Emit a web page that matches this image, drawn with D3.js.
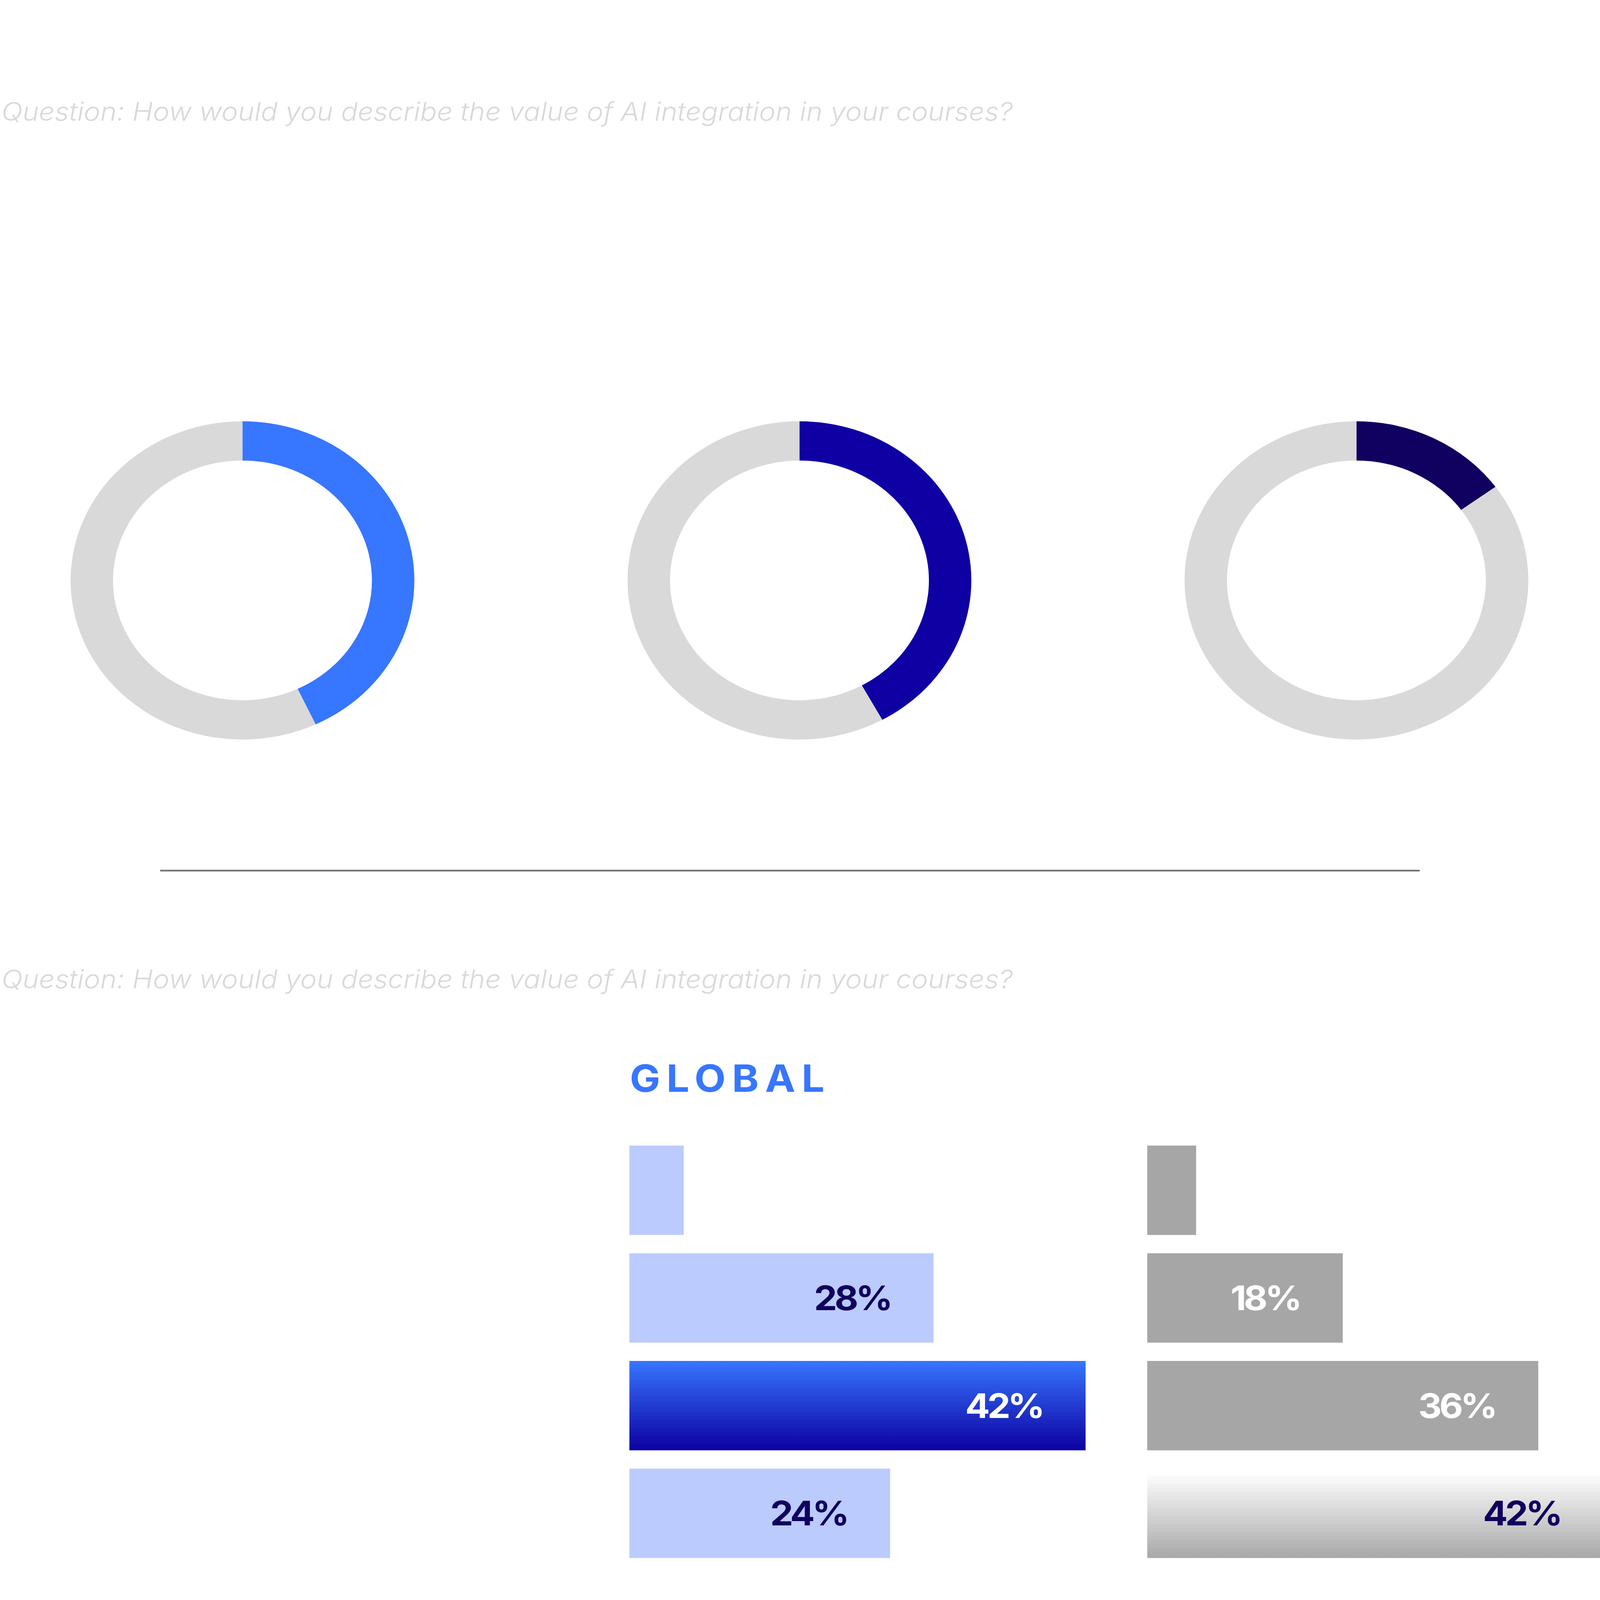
<!DOCTYPE html>
<html>
<head>
<meta charset="utf-8">
<script src="https://cdn.jsdelivr.net/npm/d3@7"></script>
<style>
  html, body { margin: 0; padding: 0; background: #fff; overflow: hidden; }
  svg { display: block; width: 100vw; height: 100vh; }
</style>
</head>
<body>
<svg id="chart" viewBox="0 0 4375 4725" preserveAspectRatio="none"></svg>
<script>
// ----- data -----
const questionText = "Question: How would you describe the value of AI integration in your courses?";
const donutValues = [43, 42, 15];
const panelTitle = "GLOBAL";
const globalValues = [5, 28, 42, 24];
const compareValues = [4.5, 18, 36, 42];

const svg = d3.select("#chart");
svg.append("rect").attr("width", 4375).attr("height", 4725).attr("fill", "#fff");

const defs = svg.append("defs");
let blueGrad = defs.append("linearGradient").attr("id", "blueGrad")
    .attr("x1", 0).attr("y1", 0).attr("x2", 0).attr("y2", 1);
blueGrad.append("stop").attr("offset", "0%").attr("stop-color", "#3776ff");
blueGrad.append("stop").attr("offset", "100%").attr("stop-color", "#0c00a0");
let greyGrad = defs.append("linearGradient").attr("id", "greyGrad")
    .attr("x1", 0).attr("y1", 0).attr("x2", 0).attr("y2", 1);
greyGrad.append("stop").attr("offset", "4%").attr("stop-color", "#ffffff");
greyGrad.append("stop").attr("offset", "100%").attr("stop-color", "#a8a8a8");

// question lines
const qFont = "Inter, 'Noto Sans', sans-serif";
[357, 2918].forEach(y => {
    svg.append("text")
       .attr("x", 4).attr("y", y)
       .attr("font-family", qFont)
       .attr("font-style", "italic")
       .attr("font-weight", 300)
       .attr("font-size", 76)
       .attr("fill", "#d9d9d9")
       .text(questionText);
});

// donuts
const donutColors = ["#3776ff", "#0e00a3", "#10005f"];
const donutX = d3.scalePoint().domain(d3.range(donutValues.length)).range([663, 3709]);
const pie = d3.pie().sort(null).value(d => d);
const arc = d3.arc().innerRadius(354).outerRadius(470);

donutValues.forEach((v, i) => {
    let g = svg.append("g")
               .attr("class", "donut")
               .attr("transform", `translate(${donutX(i)},1714)`);
    g.selectAll("path")
     .data(pie([v, 100 - v]))
     .join("path")
     .attr("d", arc)
     .attr("fill", (d, j) => j === 0 ? donutColors[i] : "#d9d9d9");
});

// separator
svg.append("line")
   .attr("x1", 438).attr("x2", 3882)
   .attr("y1", 2571).attr("y2", 2571)
   .attr("stroke", "#777777")
   .attr("stroke-width", 5);

// GLOBAL title
svg.append("text")
   .attr("x", 1722).attr("y", 3224)
   .attr("font-family", "Inter, sans-serif")
   .attr("font-weight", 700)
   .attr("font-size", 111)
   .attr("letter-spacing", 17)
   .attr("fill", "#3776ff")
   .text(panelTitle);

// bars
const scaleX = d3.scaleLinear().domain([0, 100]).range([0, 2970]);
const scaleY = d3.scaleBand().domain(d3.range(4)).range([3383, 4601]).paddingInner(0.17).paddingOuter(0);

function drawPanel(values, x0, plain, hiFill, plainText, hiText) {
    const top = d3.max(values);
    let bars = svg.append("g")
                  .attr("class", "panel")
                  .attr("transform", `translate(${x0},0)`);
    bars.selectAll("rect")
        .data(values)
        .join("rect")
        .attr("x", 0)
        .attr("y", (d, i) => scaleY(i))
        .attr("width", d => scaleX(d))
        .attr("height", scaleY.bandwidth())
        .attr("fill", d => d === top ? hiFill : plain);
    bars.selectAll("text")
        .data(values.map((d, i) => ({v: d, i: i})).filter(d => d.v >= 10))
        .join("text")
        .attr("x", d => scaleX(d.v) - 118)
        .attr("y", d => scaleY(d.i) + scaleY.bandwidth() / 2)
        .attr("dy", "0.36em")
        .attr("text-anchor", "end")
        .attr("font-family", "Inter, sans-serif")
        .attr("font-weight", 700)
        .attr("font-size", 100)
        .attr("letter-spacing", -7)
        .attr("fill", d => d.v === top ? hiText : plainText)
        .text(d => d.v + "%");
}

drawPanel(globalValues, 1721, "#bccbfd", "url(#blueGrad)", "#10005f", "#ffffff");
drawPanel(compareValues, 3137, "#a6a6a6", "url(#greyGrad)", "#ffffff", "#10005f");
</script>
</body>
</html>
